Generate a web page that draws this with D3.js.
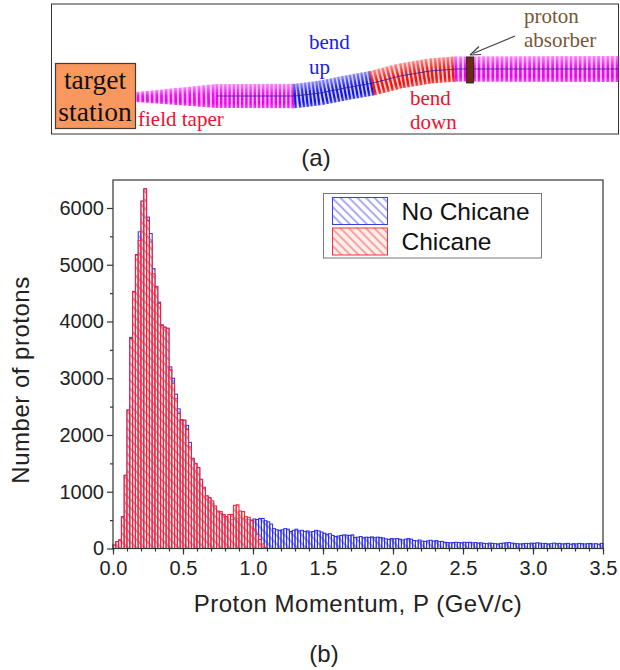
<!DOCTYPE html>
<html>
<head>
<meta charset="utf-8">
<script src="https://cdn.jsdelivr.net/npm/d3@7"></script>
<style>
  html, body { margin: 0; padding: 0; background: #fff; }
  svg { display: block; }
  text { font-family: "Liberation Sans", Arial, sans-serif; }
  .serif { font-family: "Liberation Serif", "Times New Roman", serif; }
</style>
</head>
<body>
<div id="chart"></div>
<script>
// Histogram bin width (GeV/c)
const binWidth = 0.02;

// Proton counts per bin
const chicaneCounts = [
  60, 120, 150, 560, 1290, 2440, 3700, 4520, 5170, 5430,
  6120, 6340, 5780, 5400, 4840, 4610, 4320, 3930, 3900, 3880,
  3150, 2910, 2640, 2380, 2260, 2260, 2100, 1790, 1580, 1500,
  1430, 1220, 1080, 930, 900, 840, 750, 660, 650, 600,
  560, 600, 600, 760, 770, 660, 650, 560, 550, 490,
  340, 250, 160, 80, 20
];
const noChicaneCounts = [
  60, 120, 150, 560, 1290, 2440, 3720, 4530, 5180, 5580,
  6120, 6330, 5840, 5550, 4930, 4620, 4340, 3940, 3900, 3880,
  3200, 3000, 2720, 2460, 2270, 2260, 2170, 1870, 1590, 1490,
  1420, 1210, 1060, 920, 880, 800, 700, 640, 620, 600,
  560, 520, 510, 540, 530, 540, 530, 510, 510, 500,
  520, 510, 530, 530, 490, 470, 430, 350, 330, 320,
  330, 350, 340, 300, 320, 340, 310, 320, 300, 310,
  290, 300, 320, 310, 290, 270, 250, 260, 230, 210,
  220, 230, 240, 235, 230, 240, 195, 200, 210, 190,
  200, 195, 205, 190, 200, 195, 185, 170, 160, 175,
  170, 175, 165, 150, 165, 175, 165, 140, 135, 150,
  130, 125, 135, 145, 130, 140, 120, 125, 110, 105,
  100, 105, 110, 105, 100, 110, 105, 110, 100, 105,
  95, 100, 90, 85, 95, 90, 85, 80, 90, 95,
  100, 105, 95, 90, 85, 80, 85, 90, 85, 95,
  90, 100, 95, 85, 90, 80, 85, 95, 85, 90,
  80, 85, 90, 75, 85, 80, 90, 85, 80, 85,
  90, 80, 85, 75, 90
];

const xTicksMajor = [0, 0.5, 1, 1.5, 2, 2.5, 3, 3.5];
const xTicksMinor = d3.range(0, 36).map(d => d / 10);
const yTicksMajor = [0, 1000, 2000, 3000, 4000, 5000, 6000];
const yTicksMinor = [500, 1500, 2500, 3500, 4500, 5500];

// Panel (a): beam centre line and coil sections, in diagram pixels
const beamX = [136, 217, 295, 320, 345, 373, 400, 430, 456, 618];
const beamY = [97, 96, 96, 93, 88, 83, 76, 71, 69, 69];
const coilX = [136, 217, 618];
const coilHalf = [5, 12, 13];
const coilSections = [
  { from: 138, to: 217, pitch: 4.7, color: '#ee00ee' },
  { from: 217, to: 295, pitch: 4.2, color: '#ee00ee' },
  { from: 295, to: 373, pitch: 3.8, color: '#1010e0' },
  { from: 373, to: 456, pitch: 4.2, color: '#f01010' },
  { from: 456, to: 618, pitch: 4.6, color: '#ee00ee' }
];

const width = 620, height = 670;
const plot = { left: 113, right: 603, top: 180, bottom: 548.5 };

const svg = d3.select('#chart').append('svg')
  .attr('width', width)
  .attr('height', height)
  .attr('viewBox', [0, 0, width, height]);

const defs = svg.append('defs');

function addHatch(id, color, opacity, back) {
  const p = defs.append('pattern')
    .attr('id', id)
    .attr('patternUnits', 'userSpaceOnUse')
    .attr('width', 6)
    .attr('height', 6)
    .attr('patternTransform', 'rotate(45)');
  if (back) {
    p.append('rect')
      .attr('width', 6).attr('height', 6)
      .attr('fill', back)
      .attr('fill-opacity', 0.55);
  }
  p.append('line')
    .attr('x1', 0).attr('x2', 6)
    .attr('y1', 3).attr('y2', 3)
    .attr('stroke', color)
    .attr('stroke-width', 1)
    .attr('stroke-opacity', opacity);
}
addHatch('hatch-blue', '#3030e8', 0.8);
addHatch('hatch-red', '#f03040', 0.8, '#ffe0d8');

function addStripeGradient(id, color) {
  const g = defs.append('linearGradient')
    .attr('id', id)
    .attr('x1', 0).attr('x2', 0)
    .attr('y1', 0).attr('y2', 1);
  g.append('stop').attr('offset', '0%').attr('stop-color', color).attr('stop-opacity', 0.35);
  g.append('stop').attr('offset', '40%').attr('stop-color', color).attr('stop-opacity', 0.9);
  g.append('stop').attr('offset', '80%').attr('stop-color', color).attr('stop-opacity', 1);
  g.append('stop').attr('offset', '100%').attr('stop-color', color).attr('stop-opacity', 0.7);
}
coilSections.forEach((s, i) => addStripeGradient(`coil-${i}`, s.color));

// Panel (a)
const diagram = svg.append('g');

diagram.append('rect')
  .attr('x', 51.5).attr('y', 4)
  .attr('width', 567).attr('height', 130)
  .attr('fill', '#fff')
  .attr('stroke', '#333')
  .attr('stroke-width', 1);

const beamAt = d3.scaleLinear().domain(beamX).range(beamY);
const halfAt = d3.scaleLinear().domain(coilX).range(coilHalf);

coilSections.forEach((s, i) => {
  const stations = d3.range(s.from, s.to, s.pitch);
  const g = diagram.append('g');
  const tilt = x => Math.atan2(beamAt(x + 3) - beamAt(x - 3), 6) * 180 / Math.PI;
  const place = x => `translate(${x},${beamAt(x)}) rotate(${tilt(x)})`;

  // pale band between the stripes, then the stripes
  g.selectAll('.under')
    .data(stations)
    .join('rect')
    .attr('class', 'under')
    .attr('x', -s.pitch / 2)
    .attr('width', s.pitch + 0.3)
    .attr('y', d => -halfAt(d))
    .attr('height', d => 2 * halfAt(d))
    .attr('transform', place)
    .attr('fill', s.color)
    .attr('fill-opacity', 0.18);

  g.selectAll('.stripe')
    .data(stations)
    .join('rect')
    .attr('class', 'stripe')
    .attr('x', -s.pitch * 0.29)
    .attr('width', s.pitch * 0.58)
    .attr('y', d => -halfAt(d))
    .attr('height', d => 2 * halfAt(d))
    .attr('transform', place)
    .attr('fill', `url(#coil-${i})`);
});

// beam line only shows past the taper
const beamLine = d3.line().x(d => d).y(d => beamAt(d));
diagram.append('path')
  .attr('d', beamLine(beamX.filter(d => d >= 217)))
  .attr('fill', 'none')
  .attr('stroke', '#2a1a9a')
  .attr('stroke-width', 1)
  .attr('stroke-opacity', 0.8);

diagram.append('rect')
  .attr('x', 55.5).attr('y', 63.5)
  .attr('width', 80).attr('height', 65)
  .attr('fill', '#f9985e')
  .attr('stroke', '#4a3a30')
  .attr('stroke-width', 1.2);

diagram.append('rect')
  .attr('x', 466.5).attr('y', 57)
  .attr('width', 7).attr('height', 26)
  .attr('fill', '#6a2c0c')
  .attr('stroke', '#222')
  .attr('stroke-width', 0.8);

// arrow to the absorber
diagram.append('line')
  .attr('x1', 515).attr('y1', 36)
  .attr('x2', 473).attr('y2', 53.5)
  .attr('stroke', '#444').attr('stroke-width', 1.2);
diagram.append('path')
  .attr('d', 'M470,55 L479,46.5 M470,55 L481,54.5')
  .attr('fill', 'none')
  .attr('stroke', '#444').attr('stroke-width', 1.2);

const diagramLabels = [
  { text: 'target', x: 95, y: 89, size: 27.5, color: '#111', anchor: 'middle' },
  { text: 'station', x: 95, y: 121, size: 27.5, color: '#111', anchor: 'middle' },
  { text: 'field taper', x: 138, y: 126, size: 21, color: '#f01030', anchor: 'start' },
  { text: 'bend', x: 309, y: 49, size: 21, color: '#2020e0', anchor: 'start' },
  { text: 'up', x: 309, y: 74, size: 21, color: '#2020e0', anchor: 'start' },
  { text: 'bend', x: 410, y: 105, size: 21, color: '#f01030', anchor: 'start' },
  { text: 'down', x: 410, y: 129, size: 21, color: '#f01030', anchor: 'start' },
  { text: 'proton', x: 524, y: 23, size: 21, color: '#7a5636', anchor: 'start' },
  { text: 'absorber', x: 524, y: 47, size: 21, color: '#7a5636', anchor: 'start' }
];
diagram.selectAll('.dlabel')
  .data(diagramLabels)
  .join('text')
  .attr('class', 'dlabel serif')
  .attr('x', d => d.x)
  .attr('y', d => d.y)
  .attr('text-anchor', d => d.anchor)
  .attr('fill', d => d.color)
  .style('font-size', d => `${d.size}px`)
  .text(d => d.text);

svg.append('text')
  .attr('x', 316).attr('y', 166)
  .attr('text-anchor', 'middle')
  .attr('fill', '#222')
  .style('font-size', '24px')
  .text('(a)');

// Panel (b)
const xScale = d3.scaleLinear().domain([0, 3.5]).range([plot.left, plot.right]);
const yScale = d3.scaleLinear().domain([0, 6493]).range([plot.bottom, plot.top]);

function drawBars(counts, hatch, stroke) {
  svg.append('g')
    .selectAll('rect')
    .data(counts)
    .join('rect')
    .attr('x', (d, i) => xScale(i * binWidth))
    .attr('width', xScale(binWidth) - xScale(0))
    .attr('y', d => yScale(d))
    .attr('height', d => yScale(0) - yScale(d))
    .attr('fill', `url(#${hatch})`)
    .attr('stroke', stroke)
    .attr('stroke-width', 1);
}
drawBars(noChicaneCounts, 'hatch-blue', '#2a2ae8');
drawBars(chicaneCounts, 'hatch-red', '#f41c30');

svg.append('rect')
  .attr('x', plot.left).attr('y', plot.top)
  .attr('width', plot.right - plot.left)
  .attr('height', plot.bottom - plot.top)
  .attr('fill', 'none')
  .attr('stroke', '#333')
  .attr('stroke-width', 1.2);

function styleAxis(g) {
  g.select('.domain').remove();
  g.selectAll('line').attr('stroke', '#333').attr('stroke-width', 1.2);
  g.selectAll('text')
    .attr('fill', '#222')
    .style('font-size', '20px')
    .style('font-family', '"Liberation Sans", Arial, sans-serif');
}

svg.append('g')
  .attr('transform', `translate(0,${plot.bottom})`)
  .call(d3.axisBottom(xScale).tickValues(xTicksMinor).tickSize(3).tickFormat(''))
  .call(styleAxis);
svg.append('g')
  .attr('transform', `translate(0,${plot.bottom})`)
  .call(d3.axisBottom(xScale).tickValues(xTicksMajor).tickSize(6).tickPadding(6).tickFormat(d3.format('.1f')))
  .call(styleAxis);

svg.append('g')
  .attr('transform', `translate(${plot.left},0)`)
  .call(d3.axisLeft(yScale).tickValues(yTicksMinor).tickSize(3).tickFormat(''))
  .call(styleAxis);
svg.append('g')
  .attr('transform', `translate(${plot.left},0)`)
  .call(d3.axisLeft(yScale).tickValues(yTicksMajor).tickSize(6).tickPadding(3).tickFormat(d3.format('d')))
  .call(styleAxis);

svg.append('text')
  .attr('transform', 'translate(29,380) rotate(-90)')
  .attr('text-anchor', 'middle')
  .attr('fill', '#222')
  .style('font-size', '24px')
  .style('letter-spacing', '0.5px')
  .text('Number of protons');

svg.append('text')
  .attr('x', 358).attr('y', 612)
  .attr('text-anchor', 'middle')
  .attr('fill', '#222')
  .style('font-size', '24px')
  .style('letter-spacing', '0.5px')
  .text('Proton Momentum, P (GeV/c)');

svg.append('text')
  .attr('x', 324).attr('y', 662)
  .attr('text-anchor', 'middle')
  .attr('fill', '#222')
  .style('font-size', '24px')
  .text('(b)');

// Legend
const legendItems = [
  { label: 'No Chicane', hatch: 'hatch-blue', color: '#3a3ae8' },
  { label: 'Chicane', hatch: 'hatch-red', color: '#f03040' }
];
const legend = svg.append('g').attr('transform', 'translate(323.5,193.5)');
legend.append('rect')
  .attr('width', 218).attr('height', 64.5)
  .attr('fill', '#fff')
  .attr('stroke', '#777')
  .attr('stroke-width', 1);

const legendRow = legend.selectAll('.legend-item')
  .data(legendItems)
  .join('g')
  .attr('class', 'legend-item')
  .attr('transform', (d, i) => `translate(0,${i * 30.5})`);

legendRow.append('rect')
  .attr('x', 9).attr('y', 4)
  .attr('width', 55).attr('height', 27)
  .attr('fill', d => `url(#${d.hatch})`)
  .attr('stroke', d => d.color)
  .attr('stroke-width', 1);

legendRow.append('text')
  .attr('x', 78).attr('y', 26)
  .attr('fill', '#111')
  .style('font-size', '24.5px')
  .text(d => d.label);
</script>
</body>
</html>
